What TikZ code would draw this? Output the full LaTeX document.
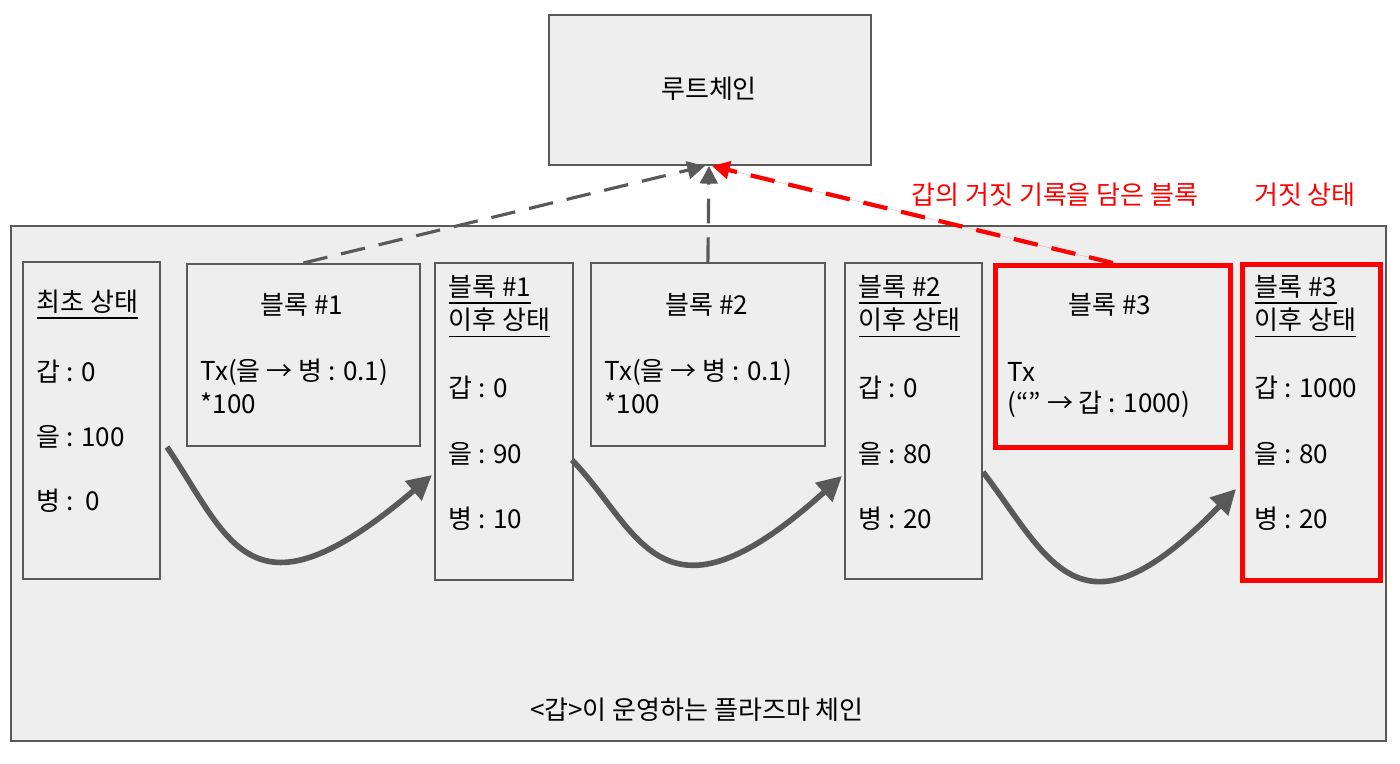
\documentclass[tikz,border=0pt]{standalone}
\usepackage{fontspec}
\setmainfont{Noto Sans CJK KR}
\usetikzlibrary{positioning,arrows.meta}
\definecolor{boxfill}{HTML}{EEEEEE}
\definecolor{lineg}{HTML}{595959}
\begin{document}
\begin{tikzpicture}[x=0.01cm,y=-0.01cm,
every node/.style={font=\fontsize{7.4}{9}\selectfont},
box/.style={draw=lineg, fill=boxfill, line width=0.5pt, anchor=north west, inner sep=0pt},
fake/.style={draw=red, line width=1.4pt},
txt/.style={anchor=west, inner sep=0pt},
flow/.style={draw=lineg, line width=1.6pt, -{Triangle[length=7pt,width=7pt]}},
link/.style={draw=lineg, line width=0.9pt, dash pattern=on 7pt off 4pt, -{Triangle[length=5pt,width=5pt]}}
]
\useasboundingbox (0,0) rectangle (1400,764);
% containers
\node[box, minimum width=322*0.01cm, minimum height=150*0.01cm] (root) at (548,14) {};
\node at (709,89) {루트체인};
\node[box, minimum width=1375*0.01cm, minimum height=515*0.01cm] (plasma) at (10,225) {};
\node (plasmalabel) at (697,710) {<갑>이 운영하는 플라즈마 체인};
% states and blocks
\node[box, minimum width=137*0.01cm, minimum height=317*0.01cm] (s0) at (22,261) {};
\node[box, minimum width=233*0.01cm, minimum height=182*0.01cm] (b1) at (186,263) {};
\node[box, minimum width=138*0.01cm, minimum height=317*0.01cm] (s1) at (434,262) {};
\node[box, minimum width=234*0.01cm, minimum height=183*0.01cm] (b2) at (590,262) {};
\node[box, minimum width=137*0.01cm, minimum height=316*0.01cm] (s2) at (844,262) {};
\node[box, fake, minimum width=235*0.01cm, minimum height=182*0.01cm] (b3) at (993,263) {};
\node[box, fake, minimum width=138*0.01cm, minimum height=316*0.01cm] (s3) at (1240,262) {};
% texts
\node[txt] at (36,305) {\underline{최초 상태}};
\node[txt] at (36,372) {갑 : 0};
\node[txt] at (36,437) {을 : 100};
\node[txt] at (36,501) {병 :\ \ 0};
\node at (302,305) {블록 \#1};
\node[txt] at (200,372) {Tx(을 → 병 : 0.1)};
\node[txt] at (200,403) {*100};
\foreach \x/\n/\a/\b/\c in {448/1/0/90/10, 858/2/0/80/20, 1254/3/1000/80/20}{
  \node[txt] at (\x,290) {\underline{블록 \#\n}};
  \node[txt] at (\x,323) {\underline{이후 상태}};
  \node[txt] at (\x,388) {갑 : \a};
  \node[txt] at (\x,454) {을 : \b};
  \node[txt] at (\x,519) {병 : \c};
}
\node at (707,305) {블록 \#2};
\node[txt] at (604,372) {Tx(을 → 병 : 0.1)};
\node[txt] at (604,403) {*100};
\node at (1110,305) {블록 \#3};
\node[txt] at (1007,372) {Tx};
\node[txt] at (1007,404) {(“” → 갑 : 1000)};
\node[text=red] (fakeblock) at (1055,195) {갑의 거짓 기록을 담은 블록};
\node[text=red] (fakestate) at (1305,195) {거짓 상태};
% links to root chain
\coordinate (r1) at (705,166);
\coordinate (r2) at (709,166);
\coordinate (r3) at (712,166);
\draw[link] (b1.north) -- (r1);
\draw[link] (b2.north) -- (r2);
\draw[link, draw=red, fill=red, line width=1.2pt] (b3.north) -- (r3);
% transitions
\draw[flow] (167,447) .. controls (230,540) and (250,630) .. (432,475);
\draw[flow] (572,460) .. controls (640,530) and (660,640) .. (842,476);
\draw[flow] (983,472) .. controls (1050,560) and (1080,650) .. (1236,489);
\end{tikzpicture}
\end{document}
